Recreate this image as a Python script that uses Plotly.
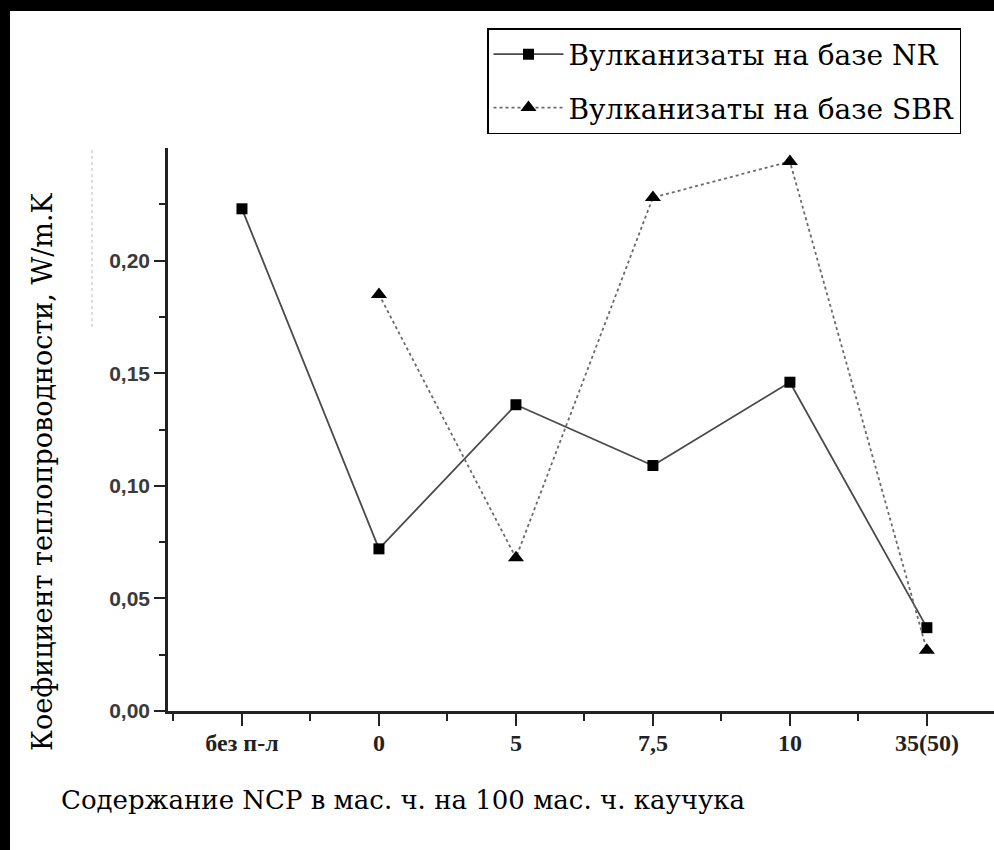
import plotly.graph_objects as go

categories = ["без п-л", "0", "5", "7,5", "10", "35(50)"]
nr_values = [0.223, 0.072, 0.136, 0.109, 0.146, 0.037]
sbr_values = [None, 0.185, 0.068, 0.228, 0.244, 0.027]
y_ticks = [0.00, 0.05, 0.10, 0.15, 0.20]
y_tick_labels = ["0,00", "0,05", "0,10", "0,15", "0,20"]

W, H = 994, 850
L, R, T, B = 168, 0, 148, 139
pw, ph = W - L - R, H - T - B

def px(xp):
    return (xp - L) / pw

def py(yp):
    return (H - B - yp) / ph

xi = list(range(len(categories)))

fig = go.Figure()
fig.add_trace(go.Scatter(
    x=xi, y=nr_values, mode="lines+markers", name="Вулканизаты на базе NR",
    line=dict(color="#4a4a4a", width=1.8),
    marker=dict(symbol="square", size=11, color="black"),
    legendgroup="a",
))
fig.add_trace(go.Scatter(
    x=xi, y=sbr_values, mode="lines+markers", name="Вулканизаты на базе SBR",
    line=dict(color="#6a6a6a", width=1.8, dash="dot"),
    marker=dict(symbol="triangle-up", size=14, color="black"),
    legendgroup="b",
))

fig.update_layout(
    width=W, height=H,
    margin=dict(l=L, r=R, t=T, b=B, autoexpand=False),
    paper_bgcolor="white", plot_bgcolor="white",
    showlegend=True,
    legend=dict(
        x=px(487), y=py(28), xanchor="left", yanchor="top",
        bgcolor="white", bordercolor="black", borderwidth=1.5,
        font=dict(family="DejaVu Serif", size=28, color="black"),
        tracegroupgap=14, itemwidth=70,
    ),
    xaxis=dict(
        range=[-0.54, 5.49], tickmode="array", tickvals=xi, ticktext=categories,
        showgrid=False, zeroline=False, showline=True, linecolor="#222", linewidth=3,
        ticks="outside", ticklen=12, tickwidth=2, tickcolor="#222",
        ticklabelstandoff=-4,
        tickfont=dict(family="Liberation Serif", size=24, color="#222", weight="bold"),
        minor=dict(tickmode="array", tickvals=[i + 0.5 for i in range(-1, 6)],
                   ticks="outside", ticklen=7, tickwidth=2, tickcolor="#222"),
        fixedrange=True,
    ),
    yaxis=dict(
        range=[0, 0.25], tickmode="array", tickvals=y_ticks, ticktext=y_tick_labels,
        showgrid=False, zeroline=False, showline=True, linecolor="#222", linewidth=2.5,
        ticks="outside", ticklen=11, tickwidth=2, tickcolor="#222",
        tickfont=dict(family="Liberation Sans", size=21, color="#3a3a3a", weight="bold"),
        minor=dict(tickmode="array", tickvals=[0.025, 0.075, 0.125, 0.175, 0.225],
                   ticks="outside", ticklen=6, tickwidth=2, tickcolor="#222"),
        fixedrange=True,
    ),
    annotations=[
        dict(text="Коефициент теплопроводности, W/m.K", xref="paper", yref="paper",
             x=px(42), y=py(472), xanchor="center", yanchor="middle", textangle=-90,
             showarrow=False, font=dict(family="DejaVu Serif", size=27, color="black")),
        dict(text="Содержание NCP в мас. ч. на 100 мас. ч. каучука", xref="paper", yref="paper",
             x=px(403), y=py(800), xanchor="center", yanchor="middle",
             showarrow=False, font=dict(family="DejaVu Serif", size=26, color="black")),
    ],
    shapes=[
        dict(type="rect", xref="paper", yref="paper", x0=px(0), x1=px(W), y0=py(0), y1=py(11),
             fillcolor="black", line=dict(width=0), layer="above"),
        dict(type="rect", xref="paper", yref="paper", x0=px(0), x1=px(10), y0=py(0), y1=py(H),
             fillcolor="black", line=dict(width=0), layer="above"),
        dict(type="line", xref="paper", yref="paper", x0=px(92), x1=px(92), y0=py(150), y1=py(330),
             line=dict(color="#bbbbbb", width=1, dash="dot"), layer="above"),
    ],
)

fig.write_html("out.html", config={"displayModeBar": False},
               post_script="document.body.style.margin='0';")
